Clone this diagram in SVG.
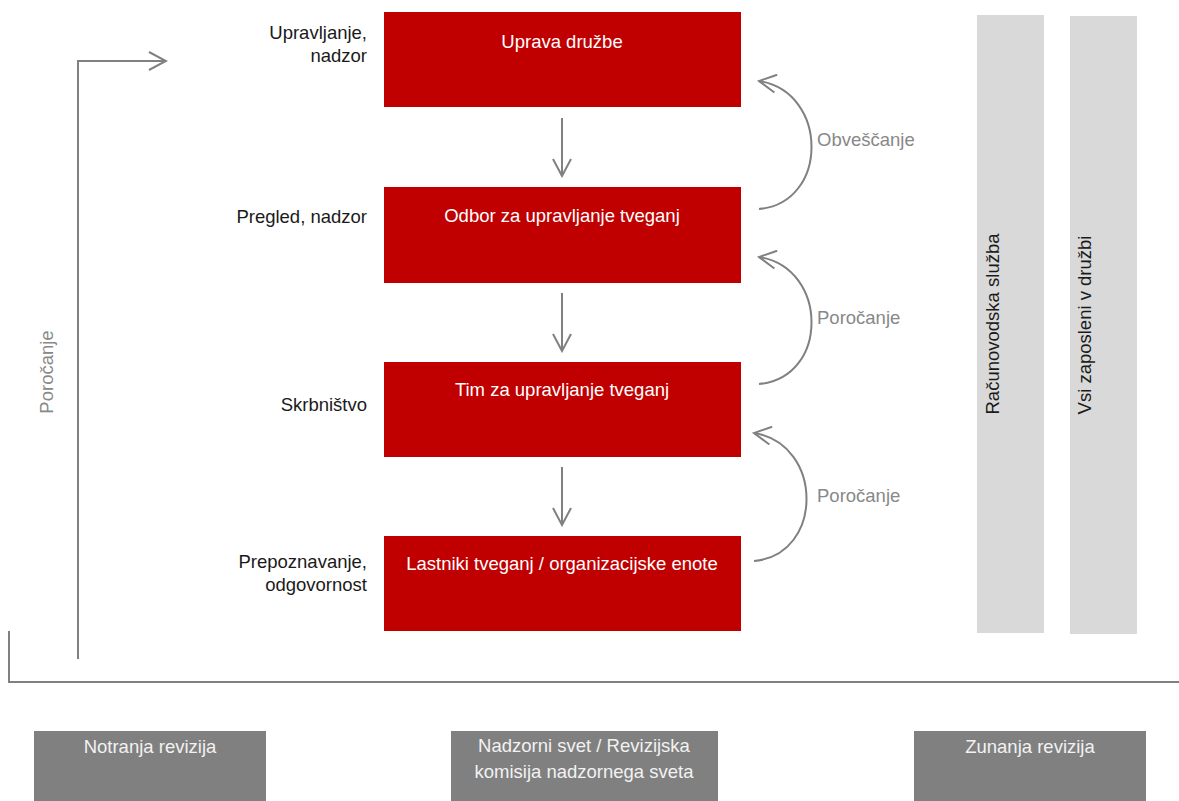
<svg xmlns="http://www.w3.org/2000/svg" width="1179" height="801" viewBox="0 0 1179 801">
<style>
text{font-family:"Liberation Sans",Arial,sans-serif;font-size:18.5px}
.red{fill:#C00000}
.rt{fill:#FFFFFF;text-anchor:middle}
.lbl{fill:#1a1a1a;text-anchor:end}
.bar{fill:#D9D9D9}
.bt{fill:#1a1a1a;text-anchor:middle}
.gbox{fill:#808080}
.gt{fill:#F2F2F2;text-anchor:middle}
.con{fill:none;stroke:#808080;stroke-width:2}
.cl{fill:#888888}
</style>
<defs>
<marker id="open" viewBox="0 0 20 20" refX="18" refY="10" markerWidth="20" markerHeight="20" markerUnits="userSpaceOnUse" orient="auto">
<path d="M1,1 L18,10 L1,19" fill="none" stroke="#808080" stroke-width="2"/>
</marker>
</defs>
<g id="connectors">
<line class="con" x1="562" y1="118" x2="562" y2="176" marker-end="url(#open)"/>
<line class="con" x1="562" y1="293" x2="562" y2="351" marker-end="url(#open)"/>
<line class="con" x1="562" y1="467" x2="562" y2="525" marker-end="url(#open)"/>
<path class="con" d="M759,209 C829,203 829,92 759,81" marker-end="url(#open)"/>
<path class="con" d="M759,384 C829,378 829,268 759,257" marker-end="url(#open)"/>
<path class="con" d="M754,561 C824,555 824,444 754,433" marker-end="url(#open)"/>
<path class="con" d="M78,659 L78,61 L166,61" marker-end="url(#open)"/>
<path class="con" d="M9,631 L9,682 L1179,682"/>
<text class="cl" x="817" y="146">Obveščanje</text>
<text class="cl" x="817" y="324">Poročanje</text>
<text class="cl" x="817" y="502">Poročanje</text>
<text class="cl" transform="translate(53,372) rotate(-90)" text-anchor="middle">Poročanje</text>
</g>
<g id="n1"><rect class="red" x="384" y="12" width="357" height="95"/><text class="rt" x="562" y="48">Uprava družbe</text></g>
<g id="n2"><rect class="red" x="384" y="187" width="357" height="96"/><text class="rt" x="562" y="222">Odbor za upravljanje tveganj</text></g>
<g id="n3"><rect class="red" x="384" y="362" width="357" height="95"/><text class="rt" x="562" y="396">Tim za upravljanje tveganj</text></g>
<g id="n4"><rect class="red" x="384" y="536" width="357" height="95"/><text class="rt" x="562" y="570">Lastniki tveganj / organizacijske enote</text></g>
<g id="labels">
<text class="lbl" x="367" y="39">Upravljanje,</text>
<text class="lbl" x="367" y="62">nadzor</text>
<text class="lbl" x="367" y="223">Pregled, nadzor</text>
<text class="lbl" x="367" y="411">Skrbništvo</text>
<text class="lbl" x="367" y="568">Prepoznavanje,</text>
<text class="lbl" x="367" y="591">odgovornost</text>
</g>
<g id="bar1"><rect class="bar" x="977" y="15" width="67" height="618"/><text class="bt" transform="translate(999,324) rotate(-90)">Računovodska služba</text></g>
<g id="bar2"><rect class="bar" x="1070" y="16" width="67" height="618"/><text class="bt" transform="translate(1091,325) rotate(-90)">Vsi zaposleni v družbi</text></g>
<g id="b1"><rect class="gbox" x="34" y="731" width="232" height="70"/><text class="gt" x="150" y="753">Notranja revizija</text></g>
<g id="b2"><rect class="gbox" x="451" y="731" width="267" height="70"/><text class="gt" x="584" y="752">Nadzorni svet / Revizijska</text><text class="gt" x="584" y="778">komisija nadzornega sveta</text></g>
<g id="b3"><rect class="gbox" x="914" y="731" width="232" height="70"/><text class="gt" x="1030" y="753">Zunanja revizija</text></g>
</svg>
